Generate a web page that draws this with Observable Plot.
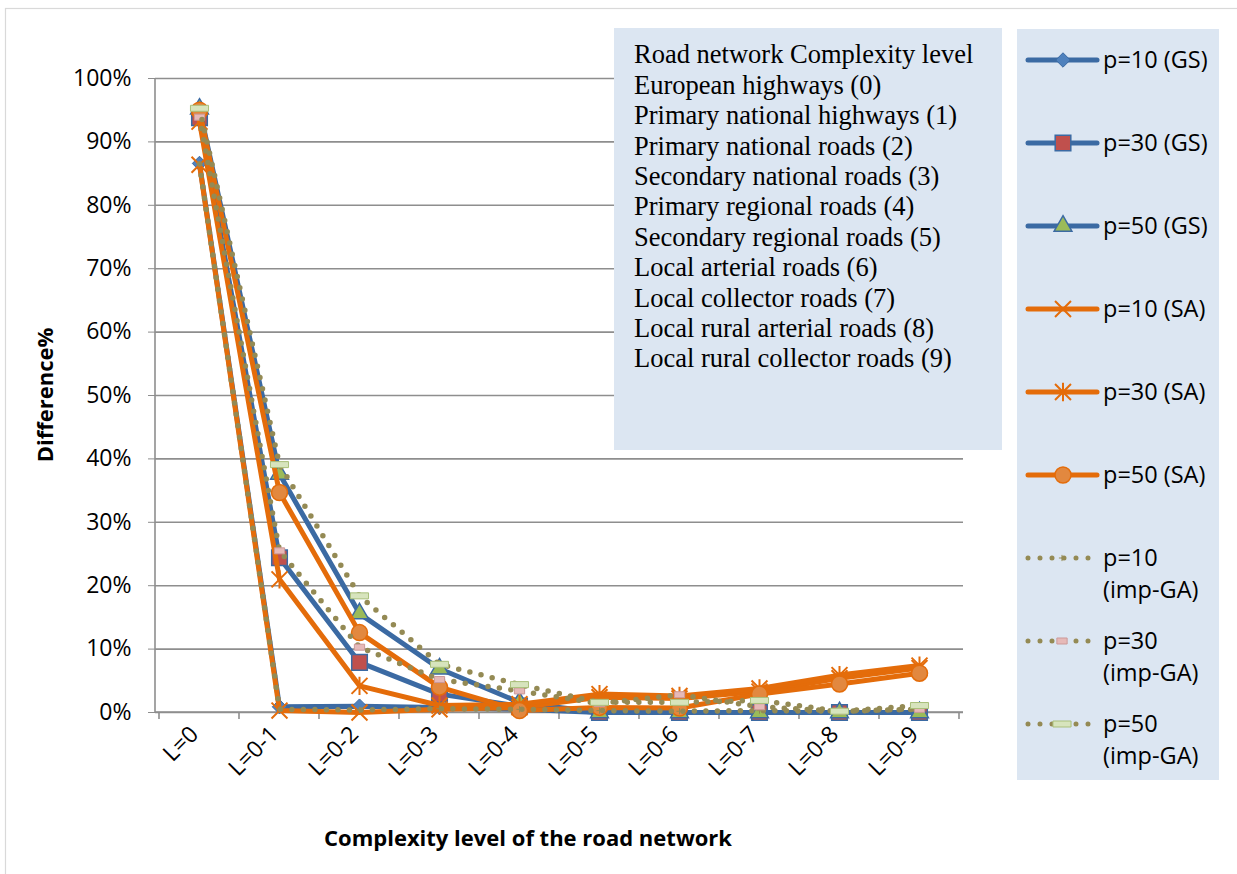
<!DOCTYPE html>
<html><head><meta charset="utf-8">
<script src="https://cdn.jsdelivr.net/npm/d3@7"></script>
<script src="https://cdn.jsdelivr.net/npm/@observablehq/plot@0.6"></script>
<style>body{margin:0;background:#fff;} #chart svg{display:block}</style>
</head><body><div id="chart"></div>
<script>
// ---------- data ----------
const categories = ["L=0","L=0-1","L=0-2","L=0-3","L=0-4","L=0-5","L=0-6","L=0-7","L=0-8","L=0-9"];
const yTicks = [0,10,20,30,40,50,60,70,80,90,100];
const seriesNames = ["p=10 (GS)","p=30 (GS)","p=50 (GS)","p=10 (SA)","p=30 (SA)","p=50 (SA)","p=10 (imp-GA)","p=30 (imp-GA)","p=50 (imp-GA)"];
const gsP10  = [86.6, 0.9, 1.0, 0.8, 0.5, 0, 0, 0, 0, 0];
const gsP30  = [93.8, 24.4, 7.9, 2.9, 1.0, 0, 0, 0, 0, 0];
const gsP50  = [95.2, 37.6, 15.6, 6.9, 1.6, 0, 0, 0, 0, 0];
const saP10  = [86.4, 0.3, 0.0, 0.5, 0.8, 2.4, 2.2, 3.3, 5.4, 7.0];
const saP30  = [93.2, 21.0, 4.2, 1.1, 1.3, 2.9, 2.6, 3.8, 5.9, 7.4];
const saP50  = [95.0, 34.7, 12.6, 4.0, 0.3, 0.8, 0.7, 2.9, 4.5, 6.2];
const gaP10  = [86.5, 0.5, 0.4, 0.6, 0.5, 0.3, 0.2, 0.3, 0.2, 0.6];
const gaP30  = [93.9, 25.5, 10.3, 5.2, 3.4, 1.4, 2.8, 0.9, 0.2, 0.5];
const gaP50  = [95.3, 39.1, 18.4, 7.6, 4.4, 1.6, 1.6, 1.9, 0.2, 1.1];
const seriesValues = [gsP10, gsP30, gsP50, saP10, saP30, saP50, gaP10, gaP30, gaP50];
const legendLabels = [["p=10 (GS)"],["p=30 (GS)"],["p=50 (GS)"],["p=10 (SA)"],["p=30 (SA)"],["p=50 (SA)"],["p=10","(imp-GA)"],["p=30","(imp-GA)"],["p=50","(imp-GA)"]];
const noteLines = ["Road network Complexity level","European highways (0)","Primary national highways (1)","Primary national roads (2)","Secondary national roads (3)","Primary regional roads (4)","Secondary regional roads (5)","Local arterial roads (6)","Local collector roads (7)","Local rural arterial roads (8)","Local rural collector roads (9)"];
const xTitle = "Complexity level of the road network";
const yTitle = "Difference%";

// ---------- styles ----------
const BLUE = "#3b6aa3", ORANGE = "#e46c0a", OLIVE = "#948a54", GRID = "#8e8e8e";
const xMark = {draw(c, size){const s = Math.sqrt(size)/2; c.moveTo(-s,-s); c.lineTo(s,s); c.moveTo(-s,s); c.lineTo(s,-s);}};
const starMark = {draw(c, size){const s = Math.sqrt(size)/2; c.moveTo(-s,-s); c.lineTo(s,s); c.moveTo(-s,s); c.lineTo(s,-s); c.moveTo(0,-s*1.15); c.lineTo(0,s*1.15);}};
const plusMark = {draw(c, size){const s = Math.sqrt(size)/2; c.moveTo(-s,0); c.lineTo(s,0); c.moveTo(0,-s); c.lineTo(0,s);}};
const ribbon = {draw(c, size){const s = Math.sqrt(size); c.rect(-s/2,-3,s,6);}};
const styles = [
  {stroke: BLUE, symbol: "diamond2", r: 6.5, fill: "#4f81bd", mstroke: BLUE, mw: 1},
  {stroke: BLUE, symbol: "square", r: 8.8, fill: "#c0504d", mstroke: BLUE, mw: 1.5},
  {stroke: BLUE, symbol: "triangle", r: 6.6, fill: "#9bbb59", mstroke: BLUE, mw: 1.5},
  {stroke: ORANGE, symbol: xMark, r: 9, fill: "none", mstroke: ORANGE, mw: 2},
  {stroke: ORANGE, symbol: starMark, r: 9, fill: "none", mstroke: ORANGE, mw: 2},
  {stroke: ORANGE, symbol: "circle", r: 8, fill: "#e2883f", mstroke: ORANGE, mw: 1.5},
  {stroke: OLIVE, dash: true, symbol: plusMark, r: 3.5, fill: "none", mstroke: OLIVE, mw: 1},
  {stroke: OLIVE, dash: true, symbol: ribbon, r: 5.8, fill: "#e6b9b8", mstroke: "#c99", mw: 1},
  {stroke: OLIVE, dash: true, symbol: ribbon, r: 10.2, fill: "#d7e4bd", mstroke: "#a9bf7a", mw: 1}
];

const rows = seriesNames.flatMap((name, i) => categories.map((cat, j) => ({series: name, cat, v: seriesValues[i][j]})));

const seriesMarks = seriesNames.flatMap((name, i) => {
  const st = styles[i];
  const d = rows.filter(r => r.series === name);
  return [
    Plot.line(d, {x: "cat", y: "v", stroke: st.stroke, strokeWidth: st.dash ? 5.5 : 5, strokeLinecap: "round", strokeLinejoin: "round",
      strokeDasharray: st.dash ? "0 11.5" : null}),
    Plot.dot(d, {x: "cat", y: "v", symbol: st.symbol, r: st.r, fill: st.fill, stroke: st.mstroke, strokeWidth: st.mw})
  ];
});

const chart = Plot.plot({
  width: 1237, height: 874,
  marginLeft: 155, marginRight: 274, marginTop: 78, marginBottom: 162,
  style: {fontFamily: "'Open Sans', sans-serif", fontSize: "23px", background: "white", overflow: "visible"},
  x: {type: "point", domain: categories, padding: 0.5, label: null},
  y: {domain: [0, 100], label: null},
  marks: [
    Plot.gridY(yTicks, {stroke: GRID, strokeOpacity: 1, strokeWidth: 1.6}),
    Plot.axisY(yTicks, {tickFormat: d => d + "%", tickSize: 7, tickPadding: 17, stroke: GRID, fill: "#000", fontSize: 23, label: null}),
    Plot.axisX({tickSize: 0, tickRotate: -45, tickPadding: 8, dx: -5, dy: 10, fill: "#000", fontSize: 23, label: null}),
    ...seriesMarks
  ]
});
document.getElementById("chart").appendChild(chart);

// ---------- axis lines, boundary ticks, titles, boxes ----------
const svg = d3.select(chart);
const xs = chart.scale("x"), ys = chart.scale("y");
const [xL, xR] = xs.range;
const y0 = ys.apply(0), yTop = ys.apply(100);
const step = xs.apply(categories[1]) - xs.apply(categories[0]);

svg.insert("rect", ":first-child").attr("x", 5.5).attr("y", 8.5).attr("width", 1240).attr("height", 880)
  .attr("fill", "none").attr("stroke", "#d9d9d9").attr("stroke-width", 1.2);

const ax = svg.insert("g", 'g[aria-label="line"]').attr("stroke", GRID).attr("stroke-width", 1.6);
ax.append("line").attr("x1", xL).attr("x2", xL).attr("y1", yTop).attr("y2", y0);
ax.append("line").attr("x1", xL).attr("x2", xR).attr("y1", y0).attr("y2", y0);
for (let i = 0; i <= categories.length; i++) {
  const x = xs.apply(categories[0]) + (i - 0.5) * step;
  ax.append("line").attr("x1", x).attr("x2", x).attr("y1", y0).attr("y2", y0 + 7);
}

svg.append("text").attr("x", 528).attr("y", 846).attr("text-anchor", "middle")
  .attr("font-weight", "bold").attr("font-size", 22).attr("fill", "#000").text(xTitle);
svg.append("text").attr("transform", `translate(53,${(y0 + yTop) / 2}) rotate(-90)`).attr("text-anchor", "middle")
  .attr("font-weight", "bold").attr("font-size", 22).attr("fill", "#000").text(yTitle);

// note box
const note = svg.append("g").attr("text-anchor", "start");
note.append("rect").attr("x", 614).attr("y", 28).attr("width", 388).attr("height", 422).attr("fill", "#dce6f2");
noteLines.forEach((t, i) => note.append("text").attr("x", 634).attr("y", 63.3 + 30.4 * i)
  .attr("font-family", "'Liberation Serif', 'Times New Roman', serif").attr("font-size", 26.5).attr("fill", "#000").text(t));

// legend
const lg = svg.append("g").attr("text-anchor", "start");
lg.append("rect").attr("x", 1017).attr("y", 29).attr("width", 202).attr("height", 751).attr("fill", "#dce6f2");
const symMap = {diamond2: d3.symbolDiamond2, square: d3.symbolSquare, triangle: d3.symbolTriangle, circle: d3.symbolCircle};
legendLabels.forEach((lab, i) => {
  const st = styles[i];
  const cy = 60 + 83 * i;
  lg.append("line").attr("x1", 1028).attr("x2", st.dash ? 1090 : 1097).attr("y1", cy).attr("y2", cy)
    .attr("stroke", st.stroke).attr("stroke-width", 5).attr("stroke-linecap", "round")
    .attr("stroke-dasharray", st.dash ? "0 12" : null);
  const s = typeof st.symbol === "string" ? symMap[st.symbol] : st.symbol;
  lg.append("path").attr("transform", `translate(${st.dash ? 1062 : 1063},${cy})`)
    .attr("d", d3.symbol(s, Math.PI * st.r * st.r)())
    .attr("fill", st.fill).attr("stroke", st.mstroke).attr("stroke-width", st.mw);
  lab.forEach((t, k) => lg.append("text").attr("x", 1103).attr("y", cy + 32 * k).attr("dy", "0.36em")
    .attr("font-size", 23.5).attr("fill", "#000").text(t));
});
</script></body></html>
